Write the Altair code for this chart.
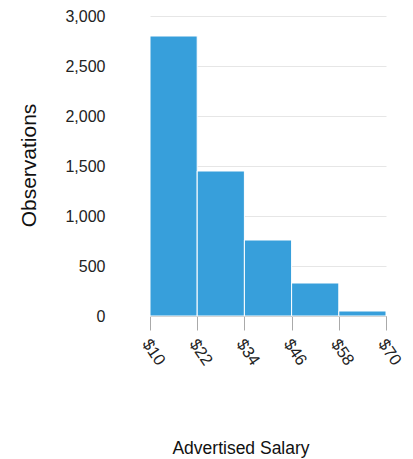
import altair as alt
import pandas as pd

bin_starts = [10, 22, 34, 46, 58]
bin_ends = [22, 34, 46, 58, 70]
counts = [2800, 1450, 760, 330, 50]
x_ticks = [10, 22, 34, 46, 58, 70]
y_ticks = [0, 500, 1000, 1500, 2000, 2500, 3000]

df = pd.DataFrame({"start": bin_starts, "end": bin_ends, "count": counts})

FONT = "Liberation Sans"

chart = (
    alt.Chart(df)
    .mark_bar(color="#379fdb", stroke="white", strokeWidth=1)
    .encode(
        x=alt.X(
            "start:Q",
            title="Advertised Salary",
            scale=alt.Scale(domain=[10, 70], nice=False, zero=False),
            axis=alt.Axis(
                values=x_ticks,
                labelExpr="'$' + datum.value",
                labelAngle=56,
                labelAlign="left",
                labelBaseline="top",
                labelPadding=6,
                labelOffset=2,
                labelFontSize=16.5,
                labelColor="#222222",
                labelFont=FONT,
                tickSize=14,
                tickColor="#aaaaaa",
                domainColor="#aaaaaa",
                grid=False,
                titleFont=FONT,
                titleFontSize=17.5,
                titleFontWeight="normal",
                titleColor="#111111",
                titleX=90.5,
                titleY=137,
                titleBaseline="alphabetic",
                titleAlign="center",
            ),
        ),
        x2="end:Q",
        y=alt.Y(
            "count:Q",
            title="Observations",
            scale=alt.Scale(domain=[0, 3000], nice=False),
            axis=alt.Axis(
                values=y_ticks,
                format=",d",
                domain=False,
                ticks=False,
                labelPadding=45,
                labelFontSize=16,
                labelColor="#222222",
                labelFont=FONT,
                gridColor="#e6e6e6",
                titleFont=FONT,
                titleFontSize=21,
                titleFontWeight="normal",
                titleColor="#111111",
                titleX=-121,
                titleY=149,
                titleAngle=-90,
                titleAlign="center",
                titleBaseline="middle",
            ),
        ),
        y2=alt.datum(0),
    )
    .properties(
        width=236,
        height=300,
        autosize=alt.AutoSizeParams(type="none"),
        padding={"left": 142, "top": 8, "right": 19, "bottom": 143},
    )
    .configure_view(stroke=None)
)

chart.save("out.html", embed_options={"renderer": "svg", "actions": False})
